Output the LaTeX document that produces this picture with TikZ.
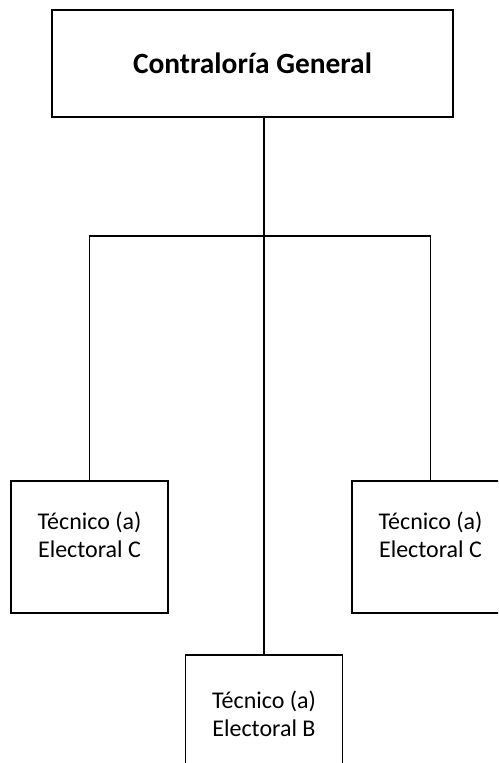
\documentclass[tikz,border=0pt]{standalone}
\usepackage{fontspec}
\setmainfont{Carlito}
\usepackage{tikz}
\usetikzlibrary{positioning}

\begin{document}
\begin{tikzpicture}[x=0.5pt,y=-0.5pt,
            box/.style={draw, line width=0.9pt, inner sep=0pt},
            head/.style={box, minimum width=200.5pt, minimum height=53.5pt, font=\fontsize{14.7}{17}\selectfont\bfseries},
            post/.style={box, minimum width=78.5pt, minimum height=66pt, align=center, font=\fontsize{12}{14}\selectfont},
            raised/.style={text depth=12pt},
            link/.style={line width=0.9pt}]
        \path[use as bounding box, clip] (0,0) rectangle (498,763);

        \node[head] (gen) at (252.5,63.5) {Contraloría General};
        \node[post, raised] (tecL) at (89.5,547) {Técnico (a)\\Electoral C};
        \node[post, raised] (tecR) at (430.5,547) {Técnico (a)\\Electoral C};
        \node[post, minimum height=59pt] (tecB) at (264,714) {Técnico (a)\\Electoral B};

        \coordinate (bar) at (264,236);

        \draw[link] (tecB.north) -- (tecB.north |- gen.south);
        \draw[link] (tecL.north) |- (bar) -| (tecR.north);
    \end{tikzpicture}
\end{document}
